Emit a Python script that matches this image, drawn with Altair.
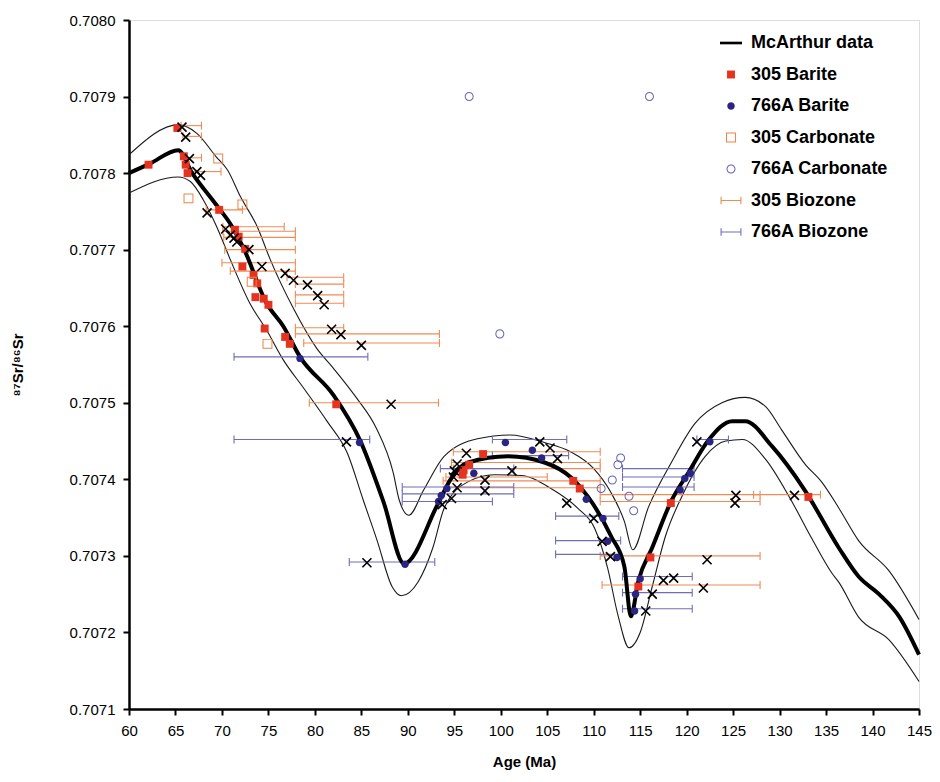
import altair as alt
import pandas as pd

FONT = "Liberation Sans"

# ---------------- McArthur seawater curve (centre) and its envelope ----------------
mc_age = [60.0, 62.2, 65.3, 66.8, 69.3, 71.1, 72.4, 74.8, 76.6, 78.4, 82.0, 84.9, 87.4, 89.6,
          93.2, 94.6, 96.5, 100.8, 104.7, 107.6, 109.4, 111.9, 113.3, 114.0, 114.8, 116.3,
          118.4, 120.2, 122.4, 124.9, 126.3, 129.2, 132.7, 136.4, 138.5, 140.7, 142.9, 145.0]
mc_sr = [0.707800, 0.707812, 0.707830, 0.707800, 0.707760, 0.707730, 0.707700, 0.707630,
         0.707600, 0.707560, 0.707510, 0.707450, 0.707370, 0.707290, 0.707367, 0.707400,
         0.707422, 0.707430, 0.707422, 0.707402, 0.707377, 0.707325, 0.707286, 0.707221,
         0.707267, 0.707311, 0.707373, 0.707409, 0.707452, 0.707476, 0.707476, 0.707443,
         0.707386, 0.707310, 0.707273, 0.707250, 0.707220, 0.707171]

up_age = [60.0, 65.3, 67.3, 69.4, 70.6, 72.0, 73.8, 75.2, 77.7, 80.2, 82.0, 84.5, 86.6, 88.4,
          89.1, 90.1, 91.7, 93.9, 97.5, 101.0, 104.7, 107.5, 110.0, 111.8, 113.3, 114.2, 115.9,
          118.4, 120.9, 123.8, 126.3, 128.5, 130.2, 132.8, 134.5, 136.4, 138.5, 141.8, 145.0]
up_sr = [0.707824, 0.707863, 0.707852, 0.707821, 0.707804, 0.707769, 0.707730, 0.707687,
         0.707623, 0.707571, 0.707545, 0.707506, 0.707467, 0.707410, 0.707372, 0.707353,
         0.707386, 0.707430, 0.707453, 0.707458, 0.707448, 0.707436, 0.707414, 0.707384,
         0.707345, 0.707308, 0.707364, 0.707423, 0.707473, 0.707500, 0.707507, 0.707495,
         0.707465, 0.707419, 0.707397, 0.707362, 0.707320, 0.707280, 0.707217]

lo_age = [60.0, 65.3, 66.6, 68.0, 69.4, 70.9, 73.0, 74.8, 76.6, 78.8, 81.3, 83.5, 85.2, 86.7,
          88.3, 89.3, 91.1, 92.7, 93.9, 96.5, 99.3, 102.2, 105.4, 108.3, 110.1, 111.5, 112.6,
          113.8, 115.0, 116.3, 117.7, 119.5, 122.0, 124.2, 126.0, 128.5, 131.0, 133.5, 135.6,
          136.4, 138.5, 141.8, 145.0]
lo_sr = [0.707774, 0.707795, 0.707789, 0.707765, 0.707731, 0.707687, 0.707630, 0.707595,
         0.707556, 0.707519, 0.707476, 0.707434, 0.707373, 0.707320, 0.707260, 0.707248,
         0.707266, 0.707311, 0.707362, 0.707397, 0.707406, 0.707405, 0.707388, 0.707362,
         0.707336, 0.707284, 0.707223, 0.707180, 0.707200, 0.707260, 0.707325, 0.707378,
         0.707430, 0.707450, 0.707452, 0.707426, 0.707378, 0.707322, 0.707278, 0.707265,
         0.707220, 0.707190, 0.707136]

# ---------------- samples ----------------
b305_age = [62.1, 65.2, 65.9, 66.1, 66.3, 69.7, 71.4, 71.8, 72.5, 72.2, 73.4, 73.8, 73.6, 74.5,
            75.0, 74.6, 76.8, 77.3, 82.3, 95.9, 96.0, 96.6, 98.1, 107.8, 108.5, 114.8, 116.1,
            118.3, 133.1]
b305_sr = [0.707811, 0.707859, 0.707822, 0.707811, 0.707800, 0.707752, 0.707726, 0.707717,
           0.707701, 0.707678, 0.707667, 0.707656, 0.707638, 0.707636, 0.707628, 0.707597,
           0.707586, 0.707577, 0.707498, 0.707406, 0.707412, 0.707419, 0.707433, 0.707398,
           0.707388, 0.707260, 0.707298, 0.707369, 0.707377]

b766_age = [78.4, 84.8, 89.7, 93.3, 93.6, 94.2, 97.1, 100.5, 103.4, 104.4, 109.2, 111.0, 111.5,
            112.5, 114.4, 114.5, 115.0, 119.3, 119.8, 120.4, 122.5]
b766_sr = [0.707558, 0.707448, 0.707289, 0.707371, 0.707379, 0.707388, 0.707408, 0.707448,
           0.707438, 0.707428, 0.707374, 0.707349, 0.707319, 0.707298, 0.707228, 0.707250,
           0.707270, 0.707386, 0.707401, 0.707408, 0.707449]

c305_age = [66.4, 69.6, 72.2, 73.2, 74.9]
c305_sr = [0.707767, 0.707819, 0.707759, 0.707658, 0.707577]

c766_age = [96.6, 116.0, 99.9, 110.8, 112.0, 112.6, 112.9, 113.8, 114.3]
c766_sr = [0.707900, 0.707900, 0.707590, 0.707388, 0.707399, 0.707419, 0.707428, 0.707378,
           0.707359]

# biozone-age points (black crosses)
x_age = [65.7, 66.1, 66.5, 67.3, 67.7, 68.4, 70.4, 70.9, 71.3, 71.6, 72.9, 74.3, 76.8, 77.7,
         79.2, 80.3, 81.0, 81.8, 82.8, 85.0, 88.2, 83.4, 85.6, 96.3, 95.3, 95.0, 94.9, 95.3,
         94.7, 93.7, 98.3, 98.3, 101.2, 104.2, 105.3, 106.1, 107.1, 110.0, 110.9, 111.8, 117.5,
         118.6, 116.3, 115.6, 121.1, 125.3, 125.2, 122.2, 121.8, 131.6]
x_sr = [0.707860, 0.707847, 0.707819, 0.707802, 0.707797, 0.707748, 0.707727, 0.707719,
        0.707715, 0.707710, 0.707700, 0.707678, 0.707669, 0.707660, 0.707654, 0.707640,
        0.707628, 0.707596, 0.707589, 0.707575, 0.707498, 0.707449, 0.707291, 0.707434,
        0.707420, 0.707411, 0.707403, 0.707389, 0.707375, 0.707367, 0.707399, 0.707385,
        0.707411, 0.707449, 0.707441, 0.707427, 0.707369, 0.707349, 0.707319, 0.707299,
        0.707268, 0.707271, 0.707250, 0.707228, 0.707449, 0.707379, 0.707369, 0.707295,
        0.707258, 0.707379]

# biozone ranges
bz305_sr = [0.707862, 0.707848, 0.707820, 0.707802, 0.707752, 0.707730, 0.707724, 0.707716,
            0.707700, 0.707683, 0.707672, 0.707664, 0.707655, 0.707641, 0.707630, 0.707598,
            0.707590, 0.707578, 0.707500, 0.707436, 0.707422, 0.707414, 0.707403, 0.707398,
            0.707389, 0.707380, 0.707371, 0.707380, 0.707300, 0.707262]
bz305_lo = [65.6, 65.8, 66.1, 66.7, 68.3, 70.1, 70.1, 70.2, 70.3, 70.0, 70.9, 77.0, 77.9, 77.9,
            77.9, 77.9, 77.9, 78.8, 79.4, 94.9, 94.7, 94.9, 94.1, 93.8, 94.4, 110.7, 110.7,
            127.2, 110.7, 110.9]
bz305_hi = [67.8, 67.8, 67.8, 69.9, 72.2, 76.7, 77.9, 77.9, 77.9, 77.9, 77.9, 83.1, 83.1, 83.1,
            83.1, 83.1, 93.4, 93.4, 93.3, 110.7, 110.7, 110.7, 105.0, 110.7, 110.7, 127.9, 127.9,
            134.4, 127.9, 127.9]

bz766_sr = [0.707560, 0.707452, 0.707292, 0.707452, 0.707431, 0.707414, 0.707390, 0.707381,
            0.707371, 0.707414, 0.707403, 0.707390, 0.707352, 0.707320, 0.707302, 0.707273,
            0.707252, 0.707231, 0.707452]
bz766_lo = [71.3, 71.3, 83.7, 99.1, 99.1, 93.5, 89.4, 89.4, 89.4, 113.1, 113.1, 113.1, 105.9,
            105.9, 105.9, 113.1, 113.1, 113.1, 121.1]
bz766_hi = [85.7, 85.9, 92.9, 107.1, 107.3, 101.4, 101.4, 101.4, 99.1, 120.8, 120.8, 120.8,
            112.7, 112.9, 112.9, 120.6, 120.6, 120.6, 124.5]

x_ticks = [60, 65, 70, 75, 80, 85, 90, 95, 100, 105, 110, 115, 120, 125, 130, 135, 140, 145]
y_ticks = [0.7071, 0.7072, 0.7073, 0.7074, 0.7075, 0.7076, 0.7077, 0.7078, 0.7079, 0.7080]

series_names = ["McArthur data", "305 Barite", "766A Barite", "305 Carbonate",
                "766A Carbonate", "305 Biozone", "766A Biozone"]
series_colors = ["#000000", "#e5331f", "#2b2482", "#e9844a", "#6464b4", "#ee8c55", "#6e6eb4"]
series_shapes = [
    "M-1,-0.12H1V0.12H-1Z",
    "M-0.36,-0.36H0.36V0.36H-0.36Z",
    "M-0.34,0A0.34,0.34 0 1,1 0.34,0A0.34,0.34 0 1,1 -0.34,0Z",
    "M-0.45,-0.45H0.45V0.45H-0.45Z M-0.36,-0.36V0.36H0.36V-0.36Z",
    "M-0.41,0A0.41,0.41 0 1,1 0.41,0A0.41,0.41 0 1,1 -0.41,0Z M-0.32,0A0.32,0.32 0 1,0 0.32,0A0.32,0.32 0 1,0 -0.32,0Z",
    "M-0.9,-0.05H0.9V0.05H-0.9Z M-0.95,-0.35H-0.85V0.35H-0.95Z M0.85,-0.35H0.95V0.35H0.85Z",
    "M-0.9,-0.05H0.9V0.05H-0.9Z M-0.95,-0.35H-0.85V0.35H-0.95Z M0.85,-0.35H0.95V0.35H0.85Z",
]

# ---------------- frames ----------------
curve_df = pd.DataFrame({"age": mc_age, "sr": mc_sr})
env_df = pd.concat([
    pd.DataFrame({"age": up_age, "sr": up_sr, "side": "upper"}),
    pd.DataFrame({"age": lo_age, "sr": lo_sr, "side": "lower"}),
], ignore_index=True)
pts_df = pd.concat([
    pd.DataFrame({"age": b305_age, "sr": b305_sr, "series": "305 Barite"}),
    pd.DataFrame({"age": b766_age, "sr": b766_sr, "series": "766A Barite"}),
    pd.DataFrame({"age": c305_age, "sr": c305_sr, "series": "305 Carbonate"}),
    pd.DataFrame({"age": c766_age, "sr": c766_sr, "series": "766A Carbonate"}),
], ignore_index=True)
x_df = pd.DataFrame({"age": x_age, "sr": x_sr})
bz305_df = pd.DataFrame({"sr": bz305_sr, "lo": bz305_lo, "hi": bz305_hi})
bz766_df = pd.DataFrame({"sr": bz766_sr, "lo": bz766_lo, "hi": bz766_hi})
cap305_df = pd.DataFrame({"age": bz305_lo + bz305_hi, "sr": bz305_sr + bz305_sr})
cap766_df = pd.DataFrame({"age": bz766_lo + bz766_hi, "sr": bz766_sr + bz766_sr})

x_scale = alt.Scale(domain=[60, 145], nice=False, zero=False)
y_scale = alt.Scale(domain=[0.7071, 0.7080], nice=False, zero=False)

common_axis = dict(grid=False, tickSize=6, tickWidth=2, domainWidth=2.5, domainColor="black",
                   tickColor="black", labelFont=FONT, labelFontSize=15, labelColor="black",
                   titleFont=FONT, titleFontSize=15, titleFontWeight="bold", titleColor="black")
x_axis = alt.Axis(values=x_ticks, title="Age (Ma)", labelFlush=False, labelPadding=8,
                  titlePadding=16, **common_axis)
y_axis = alt.Axis(values=y_ticks, format=".4f", title="⁸⁷Sr/⁸⁶Sr", labelPadding=8,
                  titlePadding=44, **common_axis)

X = alt.X("age:Q", scale=x_scale, axis=x_axis)
Y = alt.Y("sr:Q", scale=y_scale, axis=y_axis)

env = alt.Chart(env_df).mark_line(color="#1a1a1a", strokeWidth=1.1, interpolate="monotone").encode(
    x=X, y=Y, detail="side:N")

def biozone(df, caps, color):
    r = alt.Chart(df).mark_rule(color=color, strokeWidth=1.1, opacity=1).encode(
        x=alt.X("lo:Q", scale=x_scale), x2="hi:Q", y=alt.Y("sr:Q", scale=y_scale))
    c = alt.Chart(caps).mark_tick(orient="vertical", size=8, thickness=1.1, color=color,
                                  opacity=1).encode(
        x=alt.X("age:Q", scale=x_scale), y=alt.Y("sr:Q", scale=y_scale))
    return r, c

r305, c305 = biozone(bz305_df, cap305_df, "#ee8c55")
r766, c766 = biozone(bz766_df, cap766_df, "#6e6eb4")

curve = alt.Chart(curve_df).mark_line(color="black", strokeWidth=4, interpolate="monotone").encode(
    x=alt.X("age:Q", scale=x_scale), y=alt.Y("sr:Q", scale=y_scale))

legend = alt.Legend(title=None, orient="none", legendX=591, legendY=12, padding=0,
                    rowPadding=11.5, labelOffset=9, symbolSize=484, symbolStrokeWidth=0,
                    labelFont=FONT, labelFontSize=18, labelFontWeight="bold",
                    labelColor="black", symbolOpacity=1)

points = alt.Chart(pts_df).mark_point(filled=True, opacity=1, size=484, strokeWidth=0).encode(
    x=alt.X("age:Q", scale=x_scale), y=alt.Y("sr:Q", scale=y_scale),
    color=alt.Color("series:N", scale=alt.Scale(domain=series_names, range=series_colors),
                    legend=legend),
    shape=alt.Shape("series:N", scale=alt.Scale(domain=series_names, range=series_shapes),
                    legend=legend),
)

xmarks = alt.Chart(x_df).mark_point(shape="M-1,-1L1,1M-1,1L1,-1", filled=False, color="black",
                                    strokeWidth=1.6, size=81, opacity=1).encode(
    x=alt.X("age:Q", scale=x_scale), y=alt.Y("sr:Q", scale=y_scale))

chart = alt.layer(env, r305, c305, r766, c766, curve, points, xmarks).properties(
    width=790, height=689,
    autosize=alt.AutoSizeParams(type="none"),
    padding={"left": 121, "top": 12, "right": 13, "bottom": 65},
).configure_view(strokeWidth=0).configure(font=FONT)

chart.save("out.html", embed_options={"renderer": "svg", "actions": False})
